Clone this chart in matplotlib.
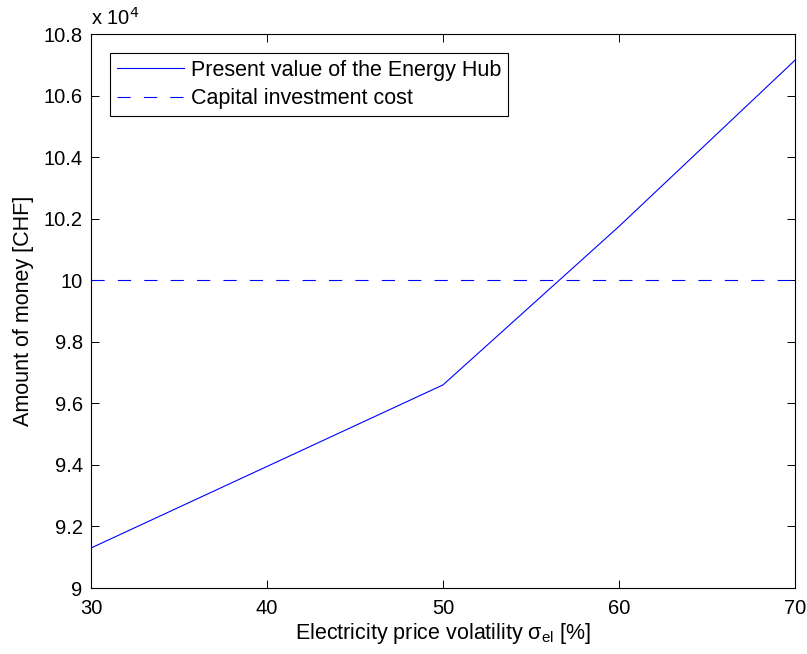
import matplotlib
matplotlib.use("Agg")
import matplotlib.pyplot as plt
from matplotlib.ticker import FuncFormatter

plt.rcParams['font.family'] = ['Liberation Sans', 'DejaVu Sans']
plt.rcParams['lines.scale_dashes'] = False

# volatility [%] and present value [CHF]
volatility = [30, 40, 50, 60, 70]
present_value = [91300, 93950, 96600, 101750, 107150]
investment_cost = 100000

fs = 14.5
fs_lab = 15.5

fig = plt.figure(figsize=(8.07, 6.54), dpi=100)
ax = fig.add_axes([0.1128, 0.1009, 0.8724, 0.8471])

ax.plot(volatility, present_value, color='#0000ff', lw=0.8,
        label='Present value of the Energy Hub')
ax.axhline(investment_cost, color='#0000ff', lw=0.8, dashes=(9.5, 9.5),
           label='Capital investment cost')

ax.set_xlim(30, 70)
ax.set_ylim(90000, 108000)
ax.set_xticks(range(30, 71, 10))
ax.set_yticks([90000 + 2000 * i for i in range(10)])
ax.yaxis.set_major_formatter(FuncFormatter(lambda v, p: '%g' % round(v / 1e4, 2)))

ax.tick_params(direction='in', top=True, right=True, length=6, width=0.7,
               labelsize=fs, pad=6)
ax.tick_params(axis='x', pad=8)
for s in ax.spines.values():
    s.set_linewidth(0.8)

ax.text(0.0, 1.01, r'x 10$^4$', transform=ax.transAxes, fontsize=fs,
        ha='left', va='bottom')

ax.set_xlabel(r'Electricity price volatility $\mathregular{\sigma_{el}}$ [%]',
              fontsize=fs_lab, labelpad=2)
ax.set_ylabel('Amount of money [CHF]', fontsize=fs_lab, labelpad=7)

leg = ax.legend(loc='upper left', fontsize=fs_lab, fancybox=False,
                edgecolor='black', framealpha=1, handlelength=3.1,
                handletextpad=0.35, borderaxespad=0.9, borderpad=0.3,
                labelspacing=0.35)
leg.get_frame().set_linewidth(0.8)

fig.savefig('out.png', dpi=100)
